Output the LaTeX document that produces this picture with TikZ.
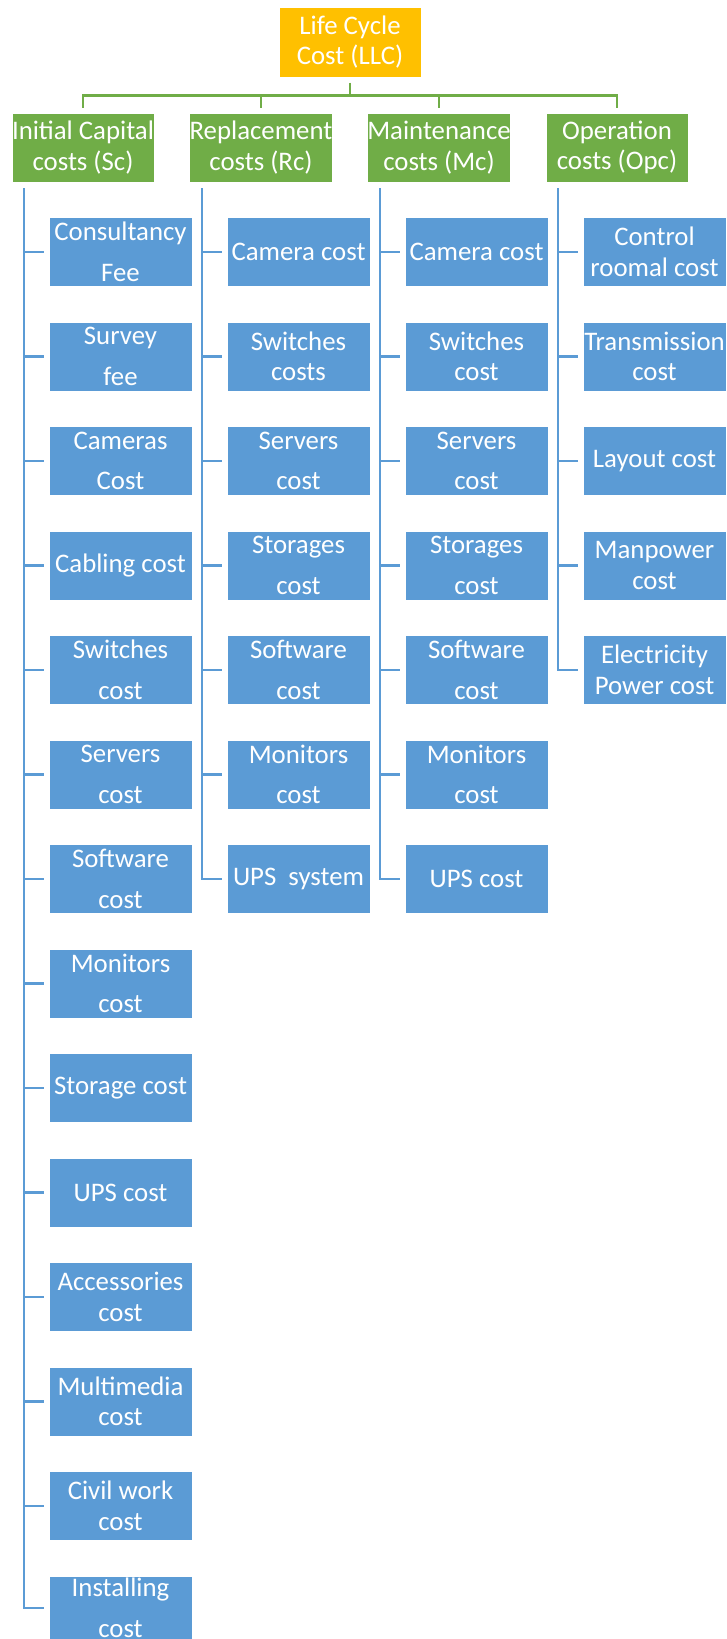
\documentclass[tikz,border=0pt]{standalone}
\usepackage{fontspec}
\setmainfont{Carlito}
\usetikzlibrary{calc}
\definecolor{leafblue}{HTML}{5B9BD5}
\definecolor{headgreen}{HTML}{70AD47}
\definecolor{rootgold}{HTML}{FFC000}
\tikzset{
  cbox/.style={rectangle, minimum width=142pt, minimum height=69pt, inner sep=0pt,
    text=white, align=center, draw=white, line width=0.6pt,
    font=\fontsize{26.8}{30.5}\selectfont},
  rootbox/.style={cbox, fill=rootgold, minimum height=70pt},
  headbox/.style={cbox, fill=headgreen},
  leaf/.style={cbox, fill=leafblue, minimum width=143pt},
  greenline/.style={draw=headgreen, line width=2.6pt},
  trunk/.style={draw=leafblue, line width=2.4pt},
}
\begin{document}
\begin{tikzpicture}[x=1pt, y=-1pt]
\useasboundingbox (0,0) rectangle (726,1639);

% root and the four cost groups
\node[rootbox] (llc) at (350,42.3) {Life Cycle\\Cost (LLC)};
\node[headbox] (sc)  at (83,147.5)  {Initial Capital\\costs (Sc)};
\node[headbox] (rc)  at (261,147.5) {Replacement\\costs (Rc)};
\node[headbox] (mc)  at (439,147.5) {Maintenance\\costs (Mc)};
\node[headbox] (opc) at (617,147.5) {Operation\\costs (Opc)};

% green bracket from the root to the groups
\coordinate (bar) at ($(llc.south)+(0,18)$);
\draw[greenline, shorten <=5pt] (llc.south) -- (bar);
\foreach \g in {sc,rc,mc,opc}
  \draw[greenline, shorten >=5pt] (bar) -| (\g.north);

% leaf items of each group
\foreach \t [count=\i] in {{Consultancy\\[10pt]Fee},{Survey\\[10pt]fee},{Cameras\\[10pt]Cost},
    {Cabling cost},{Switches\\[10pt]cost},{Servers\\[10pt]cost},{Software\\[10pt]cost},
    {Monitors\\[10pt]cost},{Storage cost},{UPS cost},{Accessories\\cost},{Multimedia\\cost},
    {Civil work\\cost}}
  \node[leaf] (sc-\i) at (120.5,{252+104.5*(\i-1)}) {\t};
% the last item runs into the lower page edge
\node[leaf, anchor=north, minimum height=63.5pt] (sc-14) at (120.5,1575.75)
  {Installing\\[10pt]cost};

\foreach \t [count=\i] in {{Camera cost},{Switches\\costs},{Servers\\[10pt]cost},
    {Storages\\[10pt]cost},{Software\\[10pt]cost},{Monitors\\[10pt]cost},{UPS\ \ system}}
  \node[leaf] (rc-\i) at (298.5,{252+104.5*(\i-1)}) {\t};

\foreach \t [count=\i] in {{Camera cost},{Switches\\cost},{Servers\\[10pt]cost},
    {Storages\\[10pt]cost},{Software\\[10pt]cost},{Monitors\\[10pt]cost},{UPS cost}}
  \node[leaf] (mc-\i) at (476.5,{252+104.5*(\i-1)}) {\t};

\foreach \t [count=\i] in {{Control\\roomal cost},{Transmission\\cost},{Layout cost},
    {Manpower\\cost},{Electricity\\Power cost}}
  \node[leaf] (opc-\i) at (654.5,{252+104.5*(\i-1)}) {\t};

% blue trunks with ticks to every item
\coordinate (sc-top)  at (24,188);
\coordinate (rc-top)  at (202,188);
\coordinate (mc-top)  at (380,188);
\coordinate (opc-top) at (558,188);
\foreach \g/\n in {sc/14,rc/7,mc/7,opc/5}{
  \draw[trunk, shorten >=5pt] (\g-top) |- (\g-\n.west);
  \foreach \i in {1,...,\n}
    \draw[trunk, shorten >=5pt] (\g-\i.west -| \g-top) -- (\g-\i.west);
}
\end{tikzpicture}
\end{document}
